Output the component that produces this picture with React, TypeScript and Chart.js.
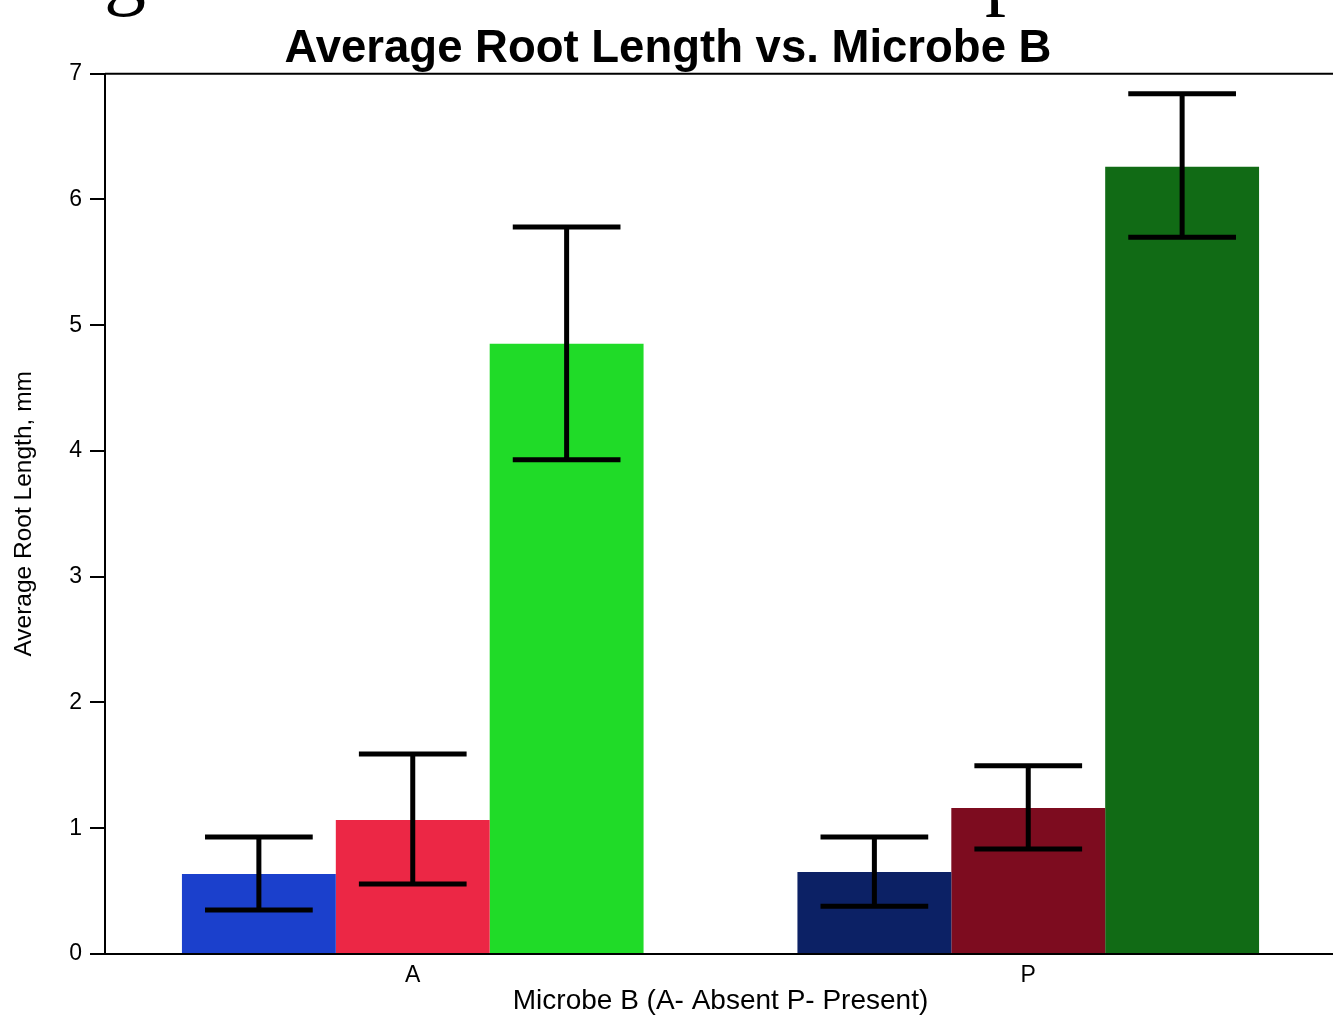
import React, { useEffect, useRef } from "react";
import { Chart, registerables } from "chart.js";

Chart.register(...registerables);

// ---- data ----
const categories = ["A", "P"];
const seriesNames = ["Group 1", "Group 2", "Group 3"];
const series1 = [0.636, 0.652];
const series2 = [1.066, 1.16];
const series3 = [4.853, 6.26];
const series1High = [0.93, 0.93];
const series1Low = [0.35, 0.38];
const series2High = [1.59, 1.496];
const series2Low = [0.557, 0.835];
const series3High = [5.78, 6.84];
const series3Low = [3.93, 5.7];
const series1Colors = ["#1b40cc", "#0c2165"];
const series2Colors = ["#ec2745", "#7d0c1f"];
const series3Colors = ["#20db28", "#116b15"];
const yTicks = [0, 1, 2, 3, 4, 5, 6, 7];

const chartTitle = "Average Root Length vs. Microbe B";
const xTitle = "Microbe B (A- Absent P- Present)";
const yTitle = "Average Root Length, mm";

const FONT = "'Liberation Sans', Arial, Helvetica, sans-serif";

const errorBarPlugin = {
  id: "errorBars",
  afterDatasetsDraw(chart: any) {
    const ctx = chart.ctx;
    const yScale = chart.scales.y;
    chart.data.datasets.forEach((ds: any, i: number) => {
      const meta = chart.getDatasetMeta(i);
      meta.data.forEach((bar: any, j: number) => {
        const x = bar.x;
        const half = bar.width * 0.35;
        const yh = yScale.getPixelForValue(ds.errHigh[j]);
        const yl = yScale.getPixelForValue(ds.errLow[j]);
        ctx.save();
        ctx.strokeStyle = "#000";
        ctx.lineWidth = 5;
        ctx.lineCap = "butt";
        ctx.beginPath();
        ctx.moveTo(x, yh);
        ctx.lineTo(x, yl);
        ctx.moveTo(x - half, yh);
        ctx.lineTo(x + half, yh);
        ctx.moveTo(x - half, yl);
        ctx.lineTo(x + half, yl);
        ctx.stroke();
        ctx.restore();
      });
    });
  },
};

const framePlugin = {
  id: "frame",
  afterDraw(chart: any) {
    const { ctx, chartArea } = chart;
    ctx.save();
    ctx.strokeStyle = "#000";
    ctx.lineWidth = 2;
    ctx.beginPath();
    ctx.moveTo(chartArea.left, chartArea.top);
    ctx.lineTo(chartArea.right, chartArea.top);
    ctx.lineTo(chartArea.right, chartArea.bottom);
    ctx.stroke();
    ctx.restore();
  },
};

export default function App() {
  const canvasRef = useRef<HTMLCanvasElement | null>(null);

  useEffect(() => {
    if (!canvasRef.current) return;
    const chart = new Chart(canvasRef.current, {
      type: "bar",
      data: {
        labels: categories,
        datasets: [
          { label: seriesNames[0], data: series1, backgroundColor: series1Colors, errHigh: series1High, errLow: series1Low } as any,
          { label: seriesNames[1], data: series2, backgroundColor: series2Colors, errHigh: series2High, errLow: series2Low } as any,
          { label: seriesNames[2], data: series3, backgroundColor: series3Colors, errHigh: series3High, errLow: series3Low } as any,
        ],
      },
      options: {
        animation: false,
        responsive: false,
        maintainAspectRatio: false,
        devicePixelRatio: 1,
        categoryPercentage: 0.75,
        barPercentage: 1,
        layout: { padding: { left: 0, right: 4, top: 0, bottom: 0 } },
        plugins: {
          legend: { display: false },
          tooltip: { enabled: false },
          title: {
            display: true,
            text: chartTitle,
            color: "#000",
            font: { family: FONT, size: 45.5, weight: "bold", lineHeight: 1.08 },
            padding: { top: 24.5, bottom: 0 },
          },
        },
        scales: {
          x: {
            grid: { display: false, drawTicks: false },
            border: { display: true, color: "#000", width: 2 },
            ticks: { color: "#000", font: { family: FONT, size: 23 }, padding: 8 },
            title: {
              display: true,
              text: xTitle,
              color: "#000",
              font: { family: FONT, size: 28, lineHeight: 1.2 },
              padding: { top: 0, bottom: 0 },
            },
            afterFit(scale: any) {
              scale.height = 64;
            },
          },
          y: {
            min: yTicks[0],
            max: yTicks[yTicks.length - 1],
            ticks: { stepSize: 1, color: "#000", font: { family: FONT, size: 23 }, padding: 8 },
            grid: { drawOnChartArea: false, drawTicks: true, tickLength: 15, color: "#000", lineWidth: 2 },
            border: { display: true, color: "#000", width: 2 },
            title: {
              display: true,
              text: yTitle,
              color: "#000",
              font: { family: FONT, size: 24.5, lineHeight: 1.2 },
              padding: { top: 10, bottom: 0 },
            },
            afterFit(scale: any) {
              scale.width = 105;
            },
          },
        },
      } as any,
      plugins: [errorBarPlugin, framePlugin],
    });
    return () => chart.destroy();
  }, []);

  const glyphStyle: React.CSSProperties = {
    position: "absolute",
    top: -71,
    fontFamily: "'Liberation Serif', 'Times New Roman', serif",
    fontSize: 84,
    lineHeight: "84px",
    color: "#000",
    whiteSpace: "pre",
  };

  return (
    <div
      style={{
        position: "fixed",
        left: 0,
        top: 0,
        width: 1333,
        height: 1018,
        overflow: "hidden",
        background: "#fff",
      }}
    >
      <canvas ref={canvasRef} width={1340} height={1018} style={{ display: "block", width: 1340, height: 1018 }} />
      <span style={{ ...glyphStyle, left: 104 }}>g</span>
      <span style={{ ...glyphStyle, left: 985 }}>p</span>
    </div>
  );
}
